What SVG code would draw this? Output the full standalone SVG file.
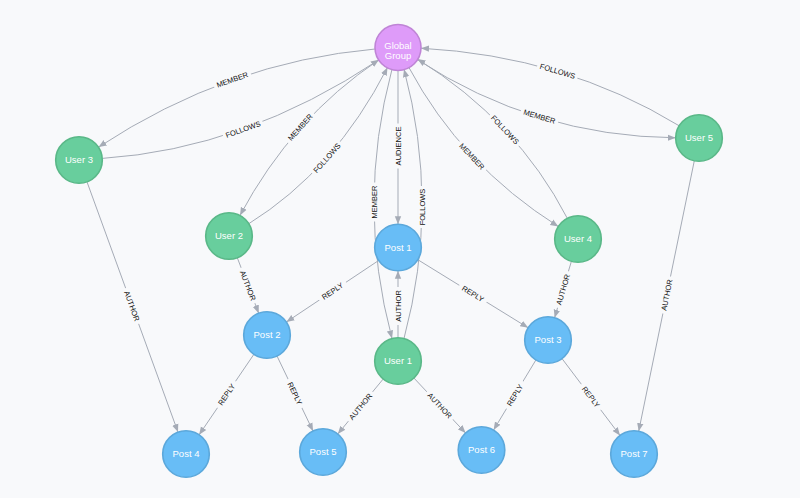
<svg xmlns="http://www.w3.org/2000/svg" width="800" height="498" viewBox="0 0 800 498">
<style>
.e{fill:none;stroke:#A5ABB6;stroke-width:1;marker-end:url(#arr)}
.lb rect{fill:#F8F9FB}
.lb text{font-family:"Liberation Sans",Arial,sans-serif;font-size:7.5px;fill:#111;text-anchor:middle}
.n circle{stroke-width:1.6}
.n text{font-family:"Liberation Sans",Arial,sans-serif;font-size:9.5px;fill:#fff;text-anchor:middle}
.user circle{fill:#68CE9D;stroke:#5AB888}
.post circle{fill:#68BDF6;stroke:#5CA8DB}
.group circle{fill:#DE9BF9;stroke:#BF85D6}
</style>
<defs>
<marker id="arr" viewBox="0 0 10 10" refX="10" refY="5" markerWidth="8" markerHeight="8" markerUnits="userSpaceOnUse" orient="auto"><path d="M0,1 L10,5 L0,9 z" fill="#A5ABB6"/></marker>
</defs>
<rect width="800" height="498" fill="#F8F9FB"/>
<g id="connectors">
<path class="e" d="M375.1,49 Q228,62 98.6,147.1"/>
<path class="e" d="M102.4,158.4 Q245,149 378.9,59.8"/>
<path class="e" d="M378.9,59.8 Q292,118 240,215.4"/>
<path class="e" d="M248.8,223.7 Q335,170 387.5,67.5"/>
<path class="e" d="M398,70 L398,224.2"/>
<path class="e" d="M392,69.2 Q356,204 392,338.5"/>
<path class="e" d="M404,338.5 Q440,204 404,69.2"/>
<path class="e" d="M408.8,67.3 Q461,165 558.3,226.5"/>
<path class="e" d="M567.3,218.3 Q517,121 417.5,59.1"/>
<path class="e" d="M679,125.7 Q565,56 421,48.2"/>
<path class="e" d="M417.3,59.6 Q535.2,136.5 675.7,137.8"/>
<path class="e" d="M87,181.9 L178,432.1"/>
<path class="e" d="M237.3,257.8 L258.7,313.2"/>
<path class="e" d="M378.6,260.5 L286.4,322"/>
<path class="e" d="M417.8,259.7 L528.2,327.8"/>
<path class="e" d="M398,337.7 L398,270.8"/>
<path class="e" d="M571.4,261.3 L554.6,317.7"/>
<path class="e" d="M694.3,160.8 L638.7,431.2"/>
<path class="e" d="M253.9,354.3 L199.1,434.8"/>
<path class="e" d="M277,356 L313,431"/>
<path class="e" d="M383.2,379 L337.8,434"/>
<path class="e" d="M413.9,378 L465.6,433"/>
<path class="e" d="M535.9,360 L493.6,430"/>
<path class="e" d="M562,358.6 L620,435.4"/>
<g class="lb" transform="translate(232.3,79.6) rotate(-19.5)"><rect x="-19.5" y="-5" width="39" height="10"/><text y="2.7">MEMBER</text></g>
<g class="lb" transform="translate(243,129.3) rotate(-19.6)"><rect x="-21" y="-5" width="42" height="10"/><text y="2.7">FOLLOWS</text></g>
<g class="lb" transform="translate(300.2,127.3) rotate(-48.2)"><rect x="-19.5" y="-5" width="39" height="10"/><text y="2.7">MEMBER</text></g>
<g class="lb" transform="translate(326.9,158) rotate(-48.4)"><rect x="-21" y="-5" width="42" height="10"/><text y="2.7">FOLLOWS</text></g>
<g class="lb" transform="translate(398,146) rotate(-90)"><rect x="-22.5" y="-5" width="45" height="10"/><text y="2.7">AUDIENCE</text></g>
<g class="lb" transform="translate(374,202) rotate(-90)"><rect x="-19.5" y="-5" width="39" height="10"/><text y="2.7">MEMBER</text></g>
<g class="lb" transform="translate(422,207) rotate(-90)"><rect x="-21" y="-5" width="42" height="10"/><text y="2.7">FOLLOWS</text></g>
<g class="lb" transform="translate(472,156.3) rotate(46.8)"><rect x="-19.5" y="-5" width="39" height="10"/><text y="2.7">MEMBER</text></g>
<g class="lb" transform="translate(505,129.7) rotate(46.7)"><rect x="-21" y="-5" width="42" height="10"/><text y="2.7">FOLLOWS</text></g>
<g class="lb" transform="translate(557.6,71.1) rotate(16.7)"><rect x="-21" y="-5" width="42" height="10"/><text y="2.7">FOLLOWS</text></g>
<g class="lb" transform="translate(539.5,116.5) rotate(16.8)"><rect x="-19.5" y="-5" width="39" height="10"/><text y="2.7">MEMBER</text></g>
<g class="lb" transform="translate(132,306) rotate(70)"><rect x="-19" y="-5" width="38" height="10"/><text y="2.7">AUTHOR</text></g>
<g class="lb" transform="translate(248,285.5) rotate(69)"><rect x="-19" y="-5" width="38" height="10"/><text y="2.7">AUTHOR</text></g>
<g class="lb" transform="translate(332.5,291) rotate(-33.7)"><rect x="-16" y="-5" width="32" height="10"/><text y="2.7">REPLY</text></g>
<g class="lb" transform="translate(473,293.7) rotate(31.7)"><rect x="-16" y="-5" width="32" height="10"/><text y="2.7">REPLY</text></g>
<g class="lb" transform="translate(398,306) rotate(-90)"><rect x="-19" y="-5" width="38" height="10"/><text y="2.7">AUTHOR</text></g>
<g class="lb" transform="translate(563,289.5) rotate(-73.5)"><rect x="-19" y="-5" width="38" height="10"/><text y="2.7">AUTHOR</text></g>
<g class="lb" transform="translate(666.7,295) rotate(-78.4)"><rect x="-19" y="-5" width="38" height="10"/><text y="2.7">AUTHOR</text></g>
<g class="lb" transform="translate(226.5,394.5) rotate(-55.8)"><rect x="-16" y="-5" width="32" height="10"/><text y="2.7">REPLY</text></g>
<g class="lb" transform="translate(295,393.5) rotate(64.4)"><rect x="-16" y="-5" width="32" height="10"/><text y="2.7">REPLY</text></g>
<g class="lb" transform="translate(360.5,406.5) rotate(-50.5)"><rect x="-19" y="-5" width="38" height="10"/><text y="2.7">AUTHOR</text></g>
<g class="lb" transform="translate(439.8,405.5) rotate(46.8)"><rect x="-19" y="-5" width="38" height="10"/><text y="2.7">AUTHOR</text></g>
<g class="lb" transform="translate(514.8,395) rotate(-58.8)"><rect x="-16" y="-5" width="32" height="10"/><text y="2.7">REPLY</text></g>
<g class="lb" transform="translate(591,397) rotate(53)"><rect x="-16" y="-5" width="32" height="10"/><text y="2.7">REPLY</text></g>
</g>
<g id="global-group" class="n group"><circle cx="398" cy="47.5" r="23"/><text x="398" y="48.5">Global</text><text x="398" y="58.5">Group</text></g>
<g id="user-3" class="n user"><circle cx="79" cy="160" r="23.3"/><text x="79" y="163.4">User 3</text></g>
<g id="user-5" class="n user"><circle cx="699" cy="138" r="23.3"/><text x="699" y="141.4">User 5</text></g>
<g id="user-2" class="n user"><circle cx="229" cy="236" r="23.3"/><text x="229" y="239.4">User 2</text></g>
<g id="user-4" class="n user"><circle cx="578" cy="239" r="23.3"/><text x="578" y="242.4">User 4</text></g>
<g id="post-1" class="n post"><circle cx="398" cy="247.5" r="23.3"/><text x="398" y="250.9">Post 1</text></g>
<g id="post-2" class="n post"><circle cx="267" cy="335" r="23.3"/><text x="267" y="338.4">Post 2</text></g>
<g id="post-3" class="n post"><circle cx="548" cy="340" r="23.3"/><text x="548" y="343.4">Post 3</text></g>
<g id="user-1" class="n user"><circle cx="398" cy="361" r="23.3"/><text x="398" y="364.4">User 1</text></g>
<g id="post-4" class="n post"><circle cx="186" cy="454" r="23.3"/><text x="186" y="457.4">Post 4</text></g>
<g id="post-5" class="n post"><circle cx="323" cy="452" r="23.3"/><text x="323" y="455.4">Post 5</text></g>
<g id="post-6" class="n post"><circle cx="481.5" cy="450" r="23.3"/><text x="481.5" y="453.4">Post 6</text></g>
<g id="post-7" class="n post"><circle cx="634" cy="454" r="23.3"/><text x="634" y="457.4">Post 7</text></g>
</svg>
